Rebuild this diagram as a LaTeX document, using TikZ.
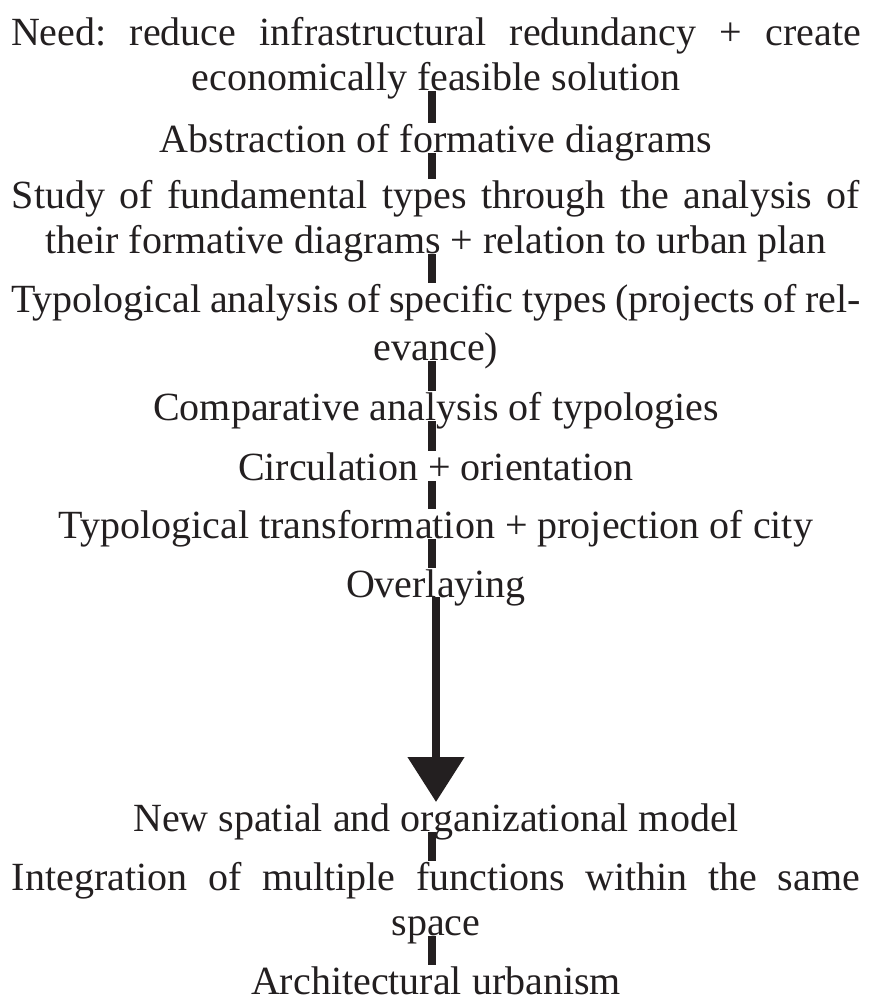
\documentclass[tikz,border=0pt]{standalone}
\usepackage{fontspec}
\setmainfont{Liberation Serif}
\usetikzlibrary{arrows.meta}
\definecolor{ink}{HTML}{231F20}
\begin{document}
\frenchspacing
\begin{tikzpicture}[x=1pt,y=-1pt,
  line/.style={anchor=base, inner sep=0pt, text=ink, font=\fontsize{40}{45}\selectfont},
  bar/.style={draw=ink, line width=8pt},
  flow/.style={draw=ink, line width=8pt, -{Triangle[length=45pt,width=55pt]}}]
\useasboundingbox (0,0) rectangle (874,1001);

% text lines, all centred on one axis (justified lines are stretched to the column width)
\node[line] (n1)  at (436,45)  {\makebox[850pt][s]{Need: reduce infrastructural redundancy + create}};
\node[line] (n2)  at (436,90)  {economically feasible solution};
\node[line] (n3)  at (436,152) {Abstraction of formative diagrams};
\node[line] (n4)  at (436,208) {\makebox[848pt][s]{Study of fundamental types through the analysis of}};
\node[line] (n5)  at (436,253) {their formative diagrams + relation to urban plan};
\node[line] (n6)  at (436,312) {\makebox[850pt][s]{Typological analysis of specific types (projects of rel-}};
\node[line] (n7)  at (436,360) {evance)};
\node[line] (n8)  at (436,420) {Comparative analysis of typologies};
\node[line] (n9)  at (436,480) {Circulation + orientation};
\node[line] (n10) at (436,538) {Typological transformation + projection of city};
\node[line] (n11) at (436,597) {Overlaying};
\node[line] (n12) at (436,831) {New spatial and organizational model};
\node[line] (n13) at (436,890) {\makebox[848pt][s]{Integration of multiple functions within the same}};
\node[line] (n14) at (436,935) {space};
\node[line] (n15) at (436,994) {Architectural urbanism};

% short connecting bars, just left of the axis
\tikzset{bar top/.style={xshift=-4pt,yshift=-1pt}, bar end/.style={xshift=-4pt,yshift=29pt}}
\draw[bar] ([bar top]n2.base)  -- ([bar end]n3.base);
\draw[bar] ([bar top]n3.base)  -- ([bar end]n4.base);
\draw[bar] ([bar top]n5.base)  -- ([bar end]n6.base);
\draw[bar] ([bar top]n7.base)  -- ([bar end]n8.base);
\draw[bar] ([bar top]n8.base)  -- ([bar end]n9.base);
\draw[bar] ([bar top]n9.base)  -- ([bar end]n10.base);
\draw[bar] ([bar top]n10.base) -- ([bar end]n11.base);

% main arrow
\draw[flow] (n11.base) -- ([yshift=29pt]n12.base);

\draw[bar] ([bar top]n12.base) -- ([bar end]n13.base);
\draw[bar] ([bar top]n14.base) -- ([bar end]n15.base);
\end{tikzpicture}
\end{document}
